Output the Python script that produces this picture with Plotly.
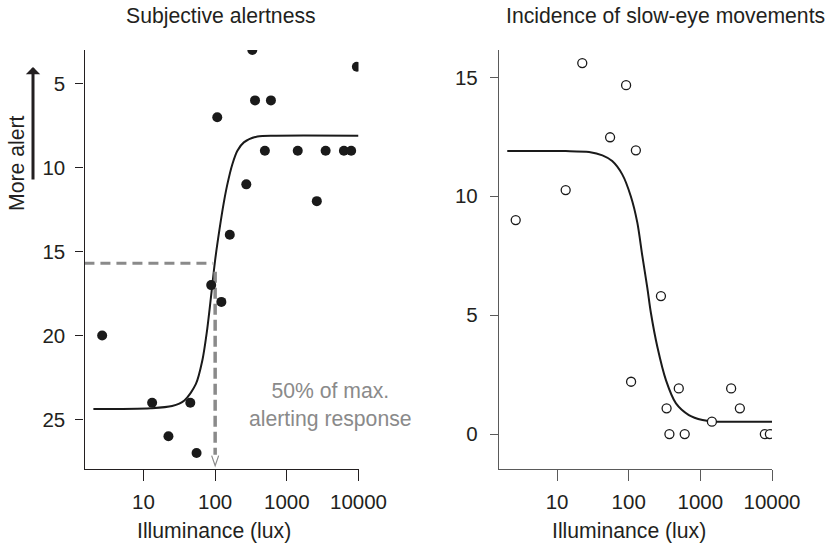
import plotly.graph_objects as go
from plotly.subplots import make_subplots

# Subjective alertness (left panel)
alert_lux = [2.65, 13.2, 22.3, 45, 55, 88, 107, 122, 160, 272,
             330, 360, 494, 600, 1420, 2620, 3480, 6260, 7900, 9500]
alert_score = [20, 24, 26, 24, 27, 17, 7, 18, 14, 11,
               3, 6, 9, 6, 9, 12, 9, 9, 9, 4]

# fitted curve
alert_fit_lux = [2.0, 12.6, 25.1, 37.2, 53.7, 66.1, 77.6, 89.1, 100, 114.8,
                 131.8, 147.9, 173.8, 204.2, 251.2, 389, 708, 10000]
alert_fit_score = [24.38, 24.33, 24.2, 23.87, 22.9, 21.5, 19.6, 17.4, 15.5, 13.7,
                   12.1, 11.0, 9.8, 9.0, 8.5, 8.15, 8.1, 8.1]

# half-max marker
half_lux = 100
half_score = 15.7

# Incidence of slow-eye movements (right panel)
sem_lux = [2.65, 13.2, 22.5, 55, 92, 108, 126, 282, 338, 370,
           500, 605, 1450, 2690, 3560, 7950, 9340]
sem_count = [9.0, 10.26, 15.6, 12.48, 14.67, 2.2, 11.93, 5.8, 1.08, 0,
             1.92, 0, 0.52, 1.92, 1.08, 0, 0]

sem_fit_lux = [2.02, 13.2, 28, 43, 58.9, 81.3, 107, 132, 155, 182,
               204, 251, 331, 457, 692, 1072, 1479, 10000]
sem_fit_count = [11.9, 11.9, 11.86, 11.72, 11.48, 10.92, 10.0, 8.89, 7.49, 6.15,
                 5.1, 3.67, 2.27, 1.29, 0.80, 0.59, 0.53, 0.52]

x_ticks = [10, 100, 1000, 10000]

FONT = "Liberation Sans, Arial, Helvetica, sans-serif"
FS = 20.5      # tick labels
FS_TXT = 21.2  # titles / labels
W, H = 829, 546
GREY = "#8a8a8a"

fig = make_subplots(rows=1, cols=2)

# left: points + fit
fig.add_trace(go.Scatter(x=alert_fit_lux, y=alert_fit_score, mode="lines",
                         line=dict(color="#1a1a1a", width=2, shape="spline", smoothing=0.8),
                         hoverinfo="skip"), row=1, col=1)
fig.add_trace(go.Scatter(x=[1.5, 93], y=[half_score, half_score], mode="lines",
                         line=dict(color=GREY, width=3, dash="10px,6px"),
                         hoverinfo="skip"), row=1, col=1)
fig.add_trace(go.Scatter(x=[half_lux, half_lux], y=[16.2, 27.1], mode="lines",
                         line=dict(color=GREY, width=3.5, dash="11px,5px"),
                         hoverinfo="skip"), row=1, col=1)
fig.add_trace(go.Scatter(x=alert_lux, y=alert_score, mode="markers",
                         marker=dict(color="#1a1a1a", size=10, line=dict(width=0))),
              row=1, col=1)

# right: fit + open circles
fig.add_trace(go.Scatter(x=sem_fit_lux, y=sem_fit_count, mode="lines",
                         line=dict(color="#1a1a1a", width=2, shape="spline", smoothing=0.8),
                         hoverinfo="skip"), row=1, col=2)
fig.add_trace(go.Scatter(x=sem_lux, y=sem_count, mode="markers",
                         marker=dict(color="white", size=9, symbol="circle",
                                     line=dict(color="#1a1a1a", width=1.3))),
              row=1, col=2)

y0 = 1 - 469 / H
y1 = 1 - 50 / H

axis_common = dict(
    showgrid=False, zeroline=False, showline=True, linewidth=1.4,
    ticks="outside", tickwidth=1.4, automargin=False,
    tickfont=dict(family=FONT, size=FS, color="#231f20"),
)

fig.update_xaxes(type="log", range=[0.177, 4.0], domain=[84.5 / W, 358.5 / W],
                 tickvals=x_ticks, ticktext=[str(v) for v in x_ticks],
                 ticklen=11, linecolor="#231f20", tickcolor="#231f20",
                 ticklabelstandoff=3, **axis_common, row=1, col=1)
fig.update_yaxes(range=[27.95, 3.0], domain=[y0, y1],
                 tickvals=[5, 10, 15, 20, 25], ticklen=8,
                 linecolor="#231f20", tickcolor="#231f20",
                 ticklabelstandoff=6, **axis_common, row=1, col=1)

fig.update_xaxes(type="log", range=[0.19, 4.0], domain=[499 / W, 772 / W],
                 tickvals=x_ticks, ticktext=[str(v) for v in x_ticks],
                 ticklen=11, linecolor="#5a5a5a", tickcolor="#5a5a5a",
                 ticklabelstandoff=3, **axis_common, row=1, col=2)
fig.update_yaxes(range=[-1.47, 16.15], domain=[y0, y1],
                 tickvals=[0, 5, 10, 15], ticklen=8,
                 linecolor="#5a5a5a", tickcolor="#5a5a5a",
                 ticklabelstandoff=8, **axis_common, row=1, col=2)

txt = dict(family=FONT, size=FS_TXT, color="#231f20")
annotations = [
    dict(text="Subjective alertness", x=221 / W, y=1 - 16 / H),
    dict(text="Incidence of slow-eye movements", x=665.5 / W, y=1 - 16 / H),
    dict(text="Illuminance (lux)", x=213.5 / W, y=1 - 531 / H),
    dict(text="Illuminance (lux)", x=628.7 / W, y=1 - 531 / H),
    dict(text="More alert", x=16 / W, y=1 - 164 / H, textangle=-90),
]
for a in annotations:
    fig.add_annotation(xref="paper", yref="paper", showarrow=False,
                       xanchor="center", yanchor="middle", font=txt, **a)

fig.add_annotation(xref="paper", yref="paper", x=330 / W, y=1 - 405 / H,
                   text="50% of max.<br>alerting response", showarrow=False,
                   xanchor="center", yanchor="middle", align="center",
                   font=dict(family=FONT, size=FS_TXT, color=GREY))

# "More alert" arrow
fig.add_annotation(xref="paper", yref="paper", x=33 / W, y=1 - 67 / H,
                   ax=0, ay=114, text="", showarrow=True,
                   arrowhead=1, arrowsize=0.8, arrowwidth=3, arrowcolor="#231f20",
                   standoff=0, startstandoff=0)

# small open chevron at the end of the vertical dashed line
fig.add_shape(type="path", xref="x", yref="y", xsizemode="pixel", ysizemode="pixel",
              xanchor=half_lux, yanchor=27.75, path="M-3.5,10 L0,0 L3.5,10",
              line=dict(color=GREY, width=1.2))

fig.update_layout(
    width=W, height=H,
    margin=dict(l=0, r=0, t=0, b=0),
    showlegend=False,
    plot_bgcolor="white",
    paper_bgcolor="white",
)

fig.write_html("out.html", config={"displayModeBar": False},
               post_script="document.body.style.margin='0px';")
